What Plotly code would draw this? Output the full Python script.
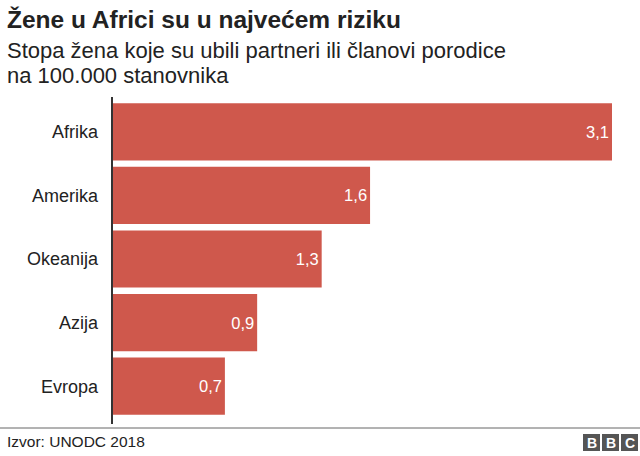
import plotly.graph_objects as go

regions = ["Afrika", "Amerika", "Okeanija", "Azija", "Evropa"]
rates = [3.1, 1.6, 1.3, 0.9, 0.7]
labels = [f"{v:.1f}".replace(".", ",") for v in rates]

W, H = 640, 456
L, R, T, B = 112, 28, 100, 38
pw, ph = W - L - R, H - T - B

def px(x):
    return (x - L) / pw

def py(y):
    return (H - B - y) / ph

FONT = "Liberation Sans, Arial, sans-serif"

fig = go.Figure(go.Bar(
    x=rates, y=regions, orientation="h",
    marker=dict(color="#cf584c", line=dict(width=0)),
    text=labels, textposition="inside", insidetextanchor="end",
    textfont=dict(color="white", size=16.5, family=FONT),
    hoverinfo="skip",
))

fig.update_layout(
    width=W, height=H,
    margin=dict(l=L, r=R, t=T, b=B),
    paper_bgcolor="white", plot_bgcolor="white",
    showlegend=False,
    bargap=0.1,
    xaxis=dict(range=[0, 3.1], visible=False, fixedrange=True),
    yaxis=dict(autorange="reversed", showgrid=False, zeroline=False,
               showline=False, ticks="", ticklabelstandoff=13, fixedrange=True,
               tickfont=dict(size=18, color="#222222", family=FONT)),
    font=dict(family=FONT),
)

shapes = [
    # vertical axis line
    dict(type="line", xref="paper", yref="paper", x0=0, x1=0,
         y0=py(424), y1=py(97), line=dict(color="#333333", width=2)),
    # footer rule
    dict(type="line", xref="paper", yref="paper", x0=px(0), x1=px(640),
         y0=py(428), y1=py(428), line=dict(color="#666666", width=1)),
]
annotations = [
    dict(text="<b>Žene u Africi su u najvećem riziku</b>", xref="paper", yref="paper",
         x=px(5), y=py(4), xanchor="left", yanchor="top", showarrow=False,
         font=dict(size=24.5, color="#222222", family=FONT)),
    dict(text="Stopa žena koje su ubili partneri ili članovi porodice", xref="paper", yref="paper",
         x=px(5), y=py(36), xanchor="left", yanchor="top", showarrow=False,
         font=dict(size=22, color="#222222", family=FONT)),
    dict(text="na 100.000 stanovnika", xref="paper", yref="paper",
         x=px(5), y=py(61), xanchor="left", yanchor="top", showarrow=False,
         font=dict(size=22, color="#222222", family=FONT)),
    dict(text="Izvor: UNODC 2018", xref="paper", yref="paper",
         x=px(5), y=py(441), xanchor="left", yanchor="middle", showarrow=False,
         font=dict(size=15.5, color="#222222", family=FONT)),
]
# BBC logo blocks
for i, letter in enumerate("BBC"):
    x0 = 583 + i * 19
    shapes.append(dict(type="rect", xref="paper", yref="paper",
                       x0=px(x0), x1=px(x0 + 17), y0=py(451), y1=py(434),
                       fillcolor="#555555", line=dict(width=0)))
    annotations.append(dict(text=f"<b>{letter}</b>", xref="paper", yref="paper",
                            x=px(x0 + 8.5), y=py(442.5), xanchor="center", yanchor="middle",
                            showarrow=False, font=dict(size=14, color="white", family=FONT)))

fig.update_layout(shapes=shapes, annotations=annotations)
fig.write_html("out.html", config={"displayModeBar": False},
               post_script="document.body.style.margin='0';")
